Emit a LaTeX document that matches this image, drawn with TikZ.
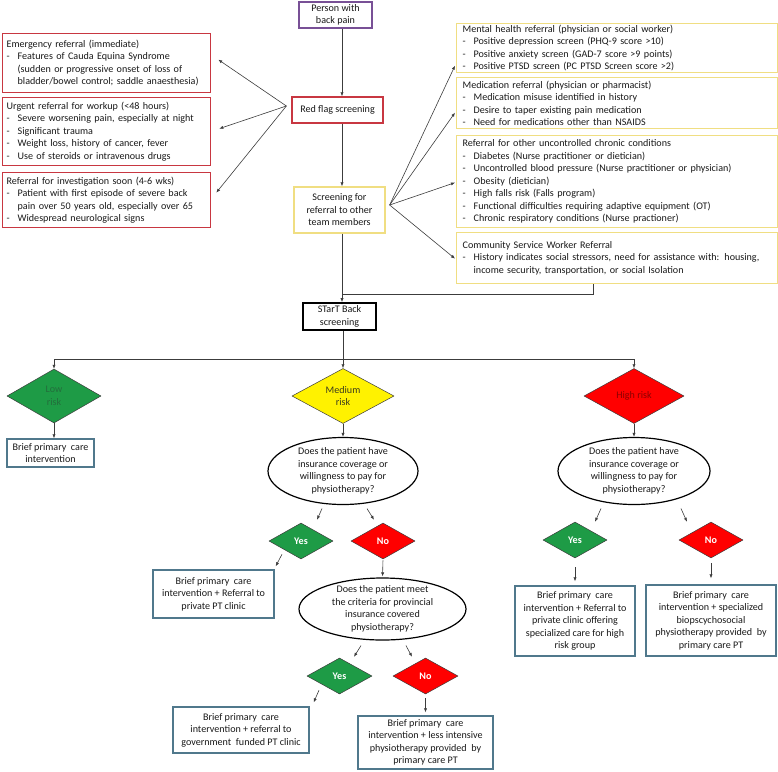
\documentclass[tikz,border=0pt]{standalone}
\usepackage{fontspec}
\setmainfont{Carlito}
\usetikzlibrary{shapes.geometric,arrows.meta}
\definecolor{boxred}{RGB}{200,55,65}
\definecolor{boxyel}{RGB}{240,222,130}
\definecolor{boxpur}{RGB}{120,80,150}
\definecolor{boxblue}{RGB}{80,120,140}
\definecolor{arrgray}{RGB}{60,60,60}
\definecolor{dgreen}{RGB}{30,155,70}
\definecolor{lowtxt}{RGB}{35,110,60}
\definecolor{medtxt}{RGB}{60,60,30}
\definecolor{hightxt}{RGB}{140,0,0}
\newcommand{\dl}[1]{\mbox{\makebox[11pt][l]{-}#1}}
\newcommand{\ind}[1]{\mbox{\hspace*{11pt}#1}}
\newcommand{\hd}[1]{\mbox{#1}}
\begin{document}
\begin{tikzpicture}[x=1pt,y=-1pt,
  every node/.style={font=\fontsize{10.1}{12.5}\selectfont, inner ysep=0pt, text=black!90},
  listbox/.style={draw=#1, line width=1.3pt, align=left, anchor=north west, inner xsep=4pt},
  cbox/.style={draw=#1, line width=1.3pt, align=center, inner xsep=2pt},
  dia/.style={diamond, draw=arrgray, line width=0.5pt, fill=#1, inner sep=0pt, align=center},
  yn/.style={font=\fontsize{10.1}{12}\selectfont\bfseries, text=white},
  ell/.style={ellipse, draw=black, line width=1.2pt, inner sep=-5pt, align=center},
  ln/.style={draw=arrgray, line width=0.6pt},
  arr/.style={ln, -{Latex[length=4pt,width=3.2pt]}}
]
\useasboundingbox (0,0) rectangle (778,771);

% centre column
\node[cbox=boxpur, minimum width=73pt, minimum height=26pt] (person) at (335.5,15) {Person with\\back pain};
\node[cbox=boxred, minimum width=91pt, minimum height=26pt] (rf) at (337.5,110) {Red flag screening};
\node[cbox=boxyel, minimum width=91pt, minimum height=46pt] (scr) at (339.5,210) {Screening for\\referral to other\\team members};
\node[cbox=black, line width=1.7pt, minimum width=73pt, minimum height=27pt] (start) at (339.5,316.5) {STarT Back\\screening};

% left red-flag boxes
\node[listbox=boxred, minimum width=208pt, minimum height=59pt, text width=200pt] (emerg) at (2,33)
 {\hd{Emergency referral (immediate)}\\
  \dl{Features of Cauda Equina Syndrome}\\
  \ind{(sudden or progressive onset of loss of}\\
  \ind{bladder/bowel control;\ saddle anaesthesia)}};
\node[listbox=boxred, minimum width=208pt, minimum height=68pt, text width=200pt] (urgent) at (2,97)
 {\hd{Urgent referral for workup (<48 hours)}\\
  \dl{Severe worsening pain, especially at night}\\
  \dl{Significant trauma}\\
  \dl{Weight loss, history of cancer, fever}\\
  \dl{Use of steroids or intravenous drugs}};
\node[listbox=boxred, minimum width=208pt, minimum height=55pt, text width=200pt] (soon) at (2,172)
 {\hd{Referral for investigation soon (4-6 wks)}\\
  \dl{Patient with first episode of severe back}\\
  \ind{pain over 50 years old, especially over 65}\\
  \dl{Widespread neurological signs}};

% right referral boxes
\node[listbox=boxyel, inner xsep=6pt, minimum width=321pt, minimum height=49pt, text width=309pt] (mh) at (456,23)
 {\hd{Mental health referral (physician or social worker)}\\
  \dl{Positive depression screen (PHQ-9 score >10)}\\
  \dl{Positive anxiety screen (GAD-7 score >9 points)}\\
  \dl{Positive PTSD screen (PC PTSD Screen score >2)}};
\node[listbox=boxyel, inner xsep=6pt, minimum width=321pt, minimum height=51pt, text width=309pt] (med) at (456,77)
 {\hd{Medication referral (physician or pharmacist)}\\
  \dl{Medication misuse identified in history}\\
  \dl{Desire to taper existing pain medication}\\
  \dl{Need for medications other than NSAIDS}};
\node[listbox=boxyel, inner xsep=6pt, minimum width=321pt, minimum height=92pt, text width=309pt] (chron) at (456,135)
 {\hd{Referral for other uncontrolled chronic conditions}\\
  \dl{Diabetes (Nurse practitioner or dietician)}\\
  \dl{Uncontrolled blood pressure (Nurse practitioner or physician)}\\
  \dl{Obesity (dietician)}\\
  \dl{High falls risk (Falls program)}\\
  \dl{Functional difficulties requiring adaptive equipment (OT)}\\
  \dl{Chronic respiratory conditions (Nurse practioner)}};
\node[listbox=boxyel, inner xsep=6pt, minimum width=321pt, minimum height=51pt, text width=309pt] (comm) at (456,232)
 {\hd{Community Service Worker\ Referral}\\
  \dl{History indicates social stressors, need for assistance with: housing,}\\
  \ind{income security, transportation,\ or social Isolation}};

% risk diamonds
\node[dia=dgreen, minimum width=94pt, minimum height=54pt, text=lowtxt] (low) at (54,396) {Low\\risk};
\node[dia=yellow, minimum width=102pt, minimum height=55pt, text=medtxt] (medium) at (343,396) {Medium\\risk};
\node[dia=red, minimum width=100pt, minimum height=55pt, text=hightxt] (high) at (634,396) {High risk};

\node[cbox=boxblue, minimum width=87pt, minimum height=28pt] (lowbox) at (50.5,453) {Brief primary\ \ care\\intervention};

% questions
\node[ell, minimum width=150pt, minimum height=67pt] (ell1) at (343,471) {Does the patient have\\insurance coverage or\\willingness to pay for\\physiotherapy?};
\node[ell, minimum width=152pt, minimum height=67pt] (ell3) at (634,471) {Does the patient have\\insurance coverage or\\willingness to pay for\\physiotherapy?};
\node[ell, minimum width=167pt, minimum height=62pt] (ell2) at (382.5,609) {Does the patient meet\\the criteria for provincial\\insurance covered\\physiotherapy?};

% yes / no diamonds
\node[dia=dgreen, minimum width=64pt, minimum height=36pt, yn] (yes1) at (301,541) {Yes};
\node[dia=red, minimum width=64pt, minimum height=36pt, yn] (no1) at (383,541) {No};
\node[dia=dgreen, minimum width=65pt, minimum height=36pt, yn] (yes2) at (339.5,676) {Yes};
\node[dia=red, minimum width=65pt, minimum height=36pt, yn] (no2) at (425.5,676) {No};
\node[dia=dgreen, minimum width=64pt, minimum height=36pt, yn] (hyes) at (575,540) {Yes};
\node[dia=red, minimum width=64pt, minimum height=36pt, yn] (hno) at (711,540) {No};

% outcome boxes
\node[cbox=boxblue, minimum width=121pt, minimum height=48pt] (box1) at (213.5,594) {Brief primary\ \ care\\intervention + Referral to\\private PT clinic};
\node[cbox=boxblue, minimum width=136pt, minimum height=46pt] (box2) at (241,730) {Brief primary\ \ care\\intervention + referral to\\government\ \ funded PT clinic};
\node[cbox=boxblue, minimum width=135pt, minimum height=53pt] (box3) at (425.5,742.5) {Brief primary\ \ care\\intervention + less intensive\\physiotherapy provided\ \ by\\primary care PT};
\node[cbox=boxblue, minimum width=120pt, minimum height=70pt] (hbox1) at (575,621) {Brief primary\ \ care\\intervention + Referral to\\private clinic offering\\specialized care for high\\risk group};
\node[cbox=boxblue, minimum width=130pt, minimum height=71pt] (hbox2) at (711,620.5) {Brief primary\ \ care\\intervention + specialized\\biopscychosocial\\physiotherapy provided\ \ by\\primary care PT};

% junction coordinates
\coordinate (cj) at (342,294);
\coordinate (hj) at (343,359);

% main flow
\draw[arr] (person.south -| cj) -- (rf.north -| cj);
\draw[arr] (rf.south -| cj) -- (scr.north -| cj);
\draw[arr] (scr.south -| cj) -- (start.north -| cj);
\draw[ln] (comm.south -| 593,0) |- (cj);

% red flag arrows
\draw[arr] ([shift={(-5pt,4pt)}]rf.west) -- ([shift={(7pt,3.5pt)}]emerg.east);
\draw[arr] ([shift={(-5pt,4pt)}]rf.west) -- ([shift={(8pt,3pt)}]urgent.east);
\draw[arr] ([shift={(-5pt,4pt)}]rf.west) -- ([shift={(5pt,7.5pt)}]soon.east);

% referral arrows
\draw[arr] ([shift={(4pt,5pt)}]scr.east) -- ([shift={(-1pt,-17.5pt)}]mh.west);
\draw[arr] ([shift={(4pt,5pt)}]scr.east) -- ([shift={(-1pt,-9.5pt)}]med.west);
\draw[arr] ([shift={(4pt,5pt)}]scr.east) -- ([shift={(-1pt,-1pt)}]chron.west);
\draw[arr] ([shift={(4pt,5pt)}]scr.east) -- ([shift={(-1pt,-0.5pt)}]comm.west);

% risk branches
\draw[ln] (start.south -| hj) -- (hj);
\draw[arr] (hj) -- (medium.north);
\draw[arr] (hj) -| (low.north);
\draw[arr] (hj) -| (high.north);

\draw[arr] (low.south) -- (low.south |- lowbox.north);
\draw[arr] (medium.south) -- (ell1.north);
\draw[arr] (high.south) -- (ell3.north);

% medium branch
\draw[arr] ([shift={(-21pt,-3.5pt)}]ell1.south) -- ([shift={(16pt,3pt)}]yes1.north);
\draw[arr] ([shift={(24pt,-3.5pt)}]ell1.south) -- ([shift={(-9pt,3pt)}]no1.north);
\draw[arr] ([shift={(-19pt,5pt)}]yes1.south) -- ([shift={(1pt,3pt)}]box1.north east);
\draw[arr, shorten <=1pt, shorten >=1pt] (no1.south) -- (ell2.north);
\draw[arr] ([shift={(-21.5pt,-5pt)}]ell2.south) -- ([shift={(14.5pt,1pt)}]yes2.north);
\draw[arr] ([shift={(23.5pt,-5pt)}]ell2.south) -- ([shift={(-13.5pt,1pt)}]no2.north);
\draw[arr] ([shift={(-20.5pt,4pt)}]yes2.south) -- ([shift={(4pt,4pt)}]box2.north east);
\draw[arr, shorten <=4pt, shorten >=3pt] (no2.south) -- (box3.north);

% high branch
\draw[arr] ([shift={(-33pt,-3.5pt)}]ell3.south) -- ([shift={(20pt,0pt)}]hyes.north);
\draw[arr] ([shift={(47pt,-3.5pt)}]ell3.south) -- ([shift={(-24pt,0pt)}]hno.north);
\draw[arr, shorten <=9pt, shorten >=4pt] (hyes.south) -- (hbox1.north);
\draw[arr, shorten <=5pt, shorten >=6pt] (hno.south) -- (hbox2.north);
\end{tikzpicture}
\end{document}
